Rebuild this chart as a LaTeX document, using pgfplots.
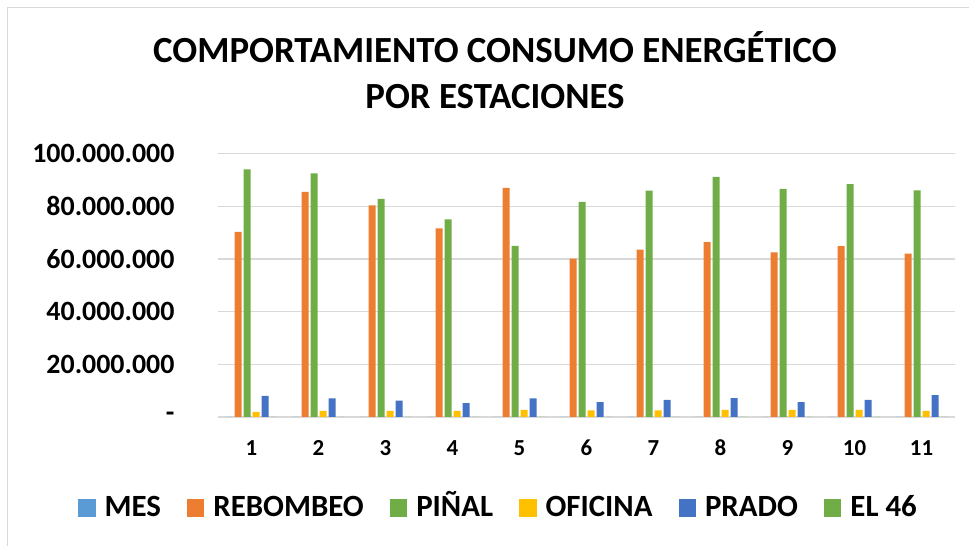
\documentclass[border=0pt]{standalone}
\usepackage{fontspec}
\setmainfont{Carlito}
\usepackage{pgfplots}
\pgfplotsset{compat=1.18}
\definecolor{cMES}{HTML}{5B9BD5}
\definecolor{cREB}{HTML}{ED7D31}
\definecolor{cPIN}{HTML}{70AD47}
\definecolor{cOFI}{HTML}{FFC000}
\definecolor{cPRA}{HTML}{4472C4}
\definecolor{cE46}{HTML}{70AD47}
\definecolor{gridc}{HTML}{D9D9D9}
\begin{document}
\begin{tikzpicture}
\path[use as bounding box] (0bp,0bp) rectangle (969bp,546bp);
\draw[gridc, line width=1bp] (7.5bp,0bp) -- (7.5bp,538bp) -- (969bp,538bp);
\node[anchor=base, font=\bfseries\fontsize{37}{44}\selectfont] at (495bp,483bp) {COMPORTAMIENTO CONSUMO ENERGÉTICO};
\node[anchor=base, font=\bfseries\fontsize{37}{44}\selectfont] at (495bp,437bp) {POR ESTACIONES};
\begin{axis}[
  at={(218bp,129bp)}, anchor=south west,
  scale only axis, width=737bp, height=263.5bp,
  ybar=2bp, bar width=7bp,
  xmin=0.5, xmax=11.5, ymin=0, ymax=100000000,
  xtick={1,2,...,11},
  ytick={0,20000000,40000000,60000000,80000000,100000000},
  yticklabels={{-\hspace{12bp}},20.000.000,40.000.000,60.000.000,80.000.000,100.000.000},
  scaled y ticks=false,
  /pgf/number format/assume math mode=true,
  axis line style={draw=none},
  major tick length=0pt,
  ymajorgrids, grid style={gridc, line width=1.3bp},
  yticklabel style={font=\bfseries\fontsize{28}{30}\selectfont, anchor=east, xshift=-40bp},
  xticklabel style={font=\bfseries\fontsize{23}{26}\selectfont, anchor=center, yshift=-31bp},
  legend columns=-1,
  legend style={at={(0.3853,-0.3378)}, anchor=center, draw=none, fill=none,
    font=\bfseries\fontsize{31}{34}\selectfont,
    /tikz/every even column/.append style={column sep=17bp},
    nodes={inner xsep=9bp, text height=20bp, text depth=0bp}},
]
\addplot[fill=cMES, draw=none, legend image code/.code={\fill[cMES] (0bp,-10.5bp) rectangle (17.5bp,7bp);}] coordinates {(1,1) (2,2) (3,3) (4,4) (5,5) (6,6) (7,7) (8,8) (9,9) (10,10) (11,11)};
\addplot[fill=cREB, draw=none, legend image code/.code={\fill[cREB] (0bp,-10.5bp) rectangle (17.5bp,7bp);}] coordinates {(1,70300000) (2,85400000) (3,80300000) (4,71600000) (5,87000000) (6,60100000) (7,63500000) (8,66400000) (9,62500000) (10,64800000) (11,62000000)};
\addplot[fill=cPIN, draw=none, legend image code/.code={\fill[cPIN] (0bp,-10.5bp) rectangle (17.5bp,7bp);}] coordinates {(1,94000000) (2,92500000) (3,82800000) (4,75000000) (5,64900000) (6,81600000) (7,85900000) (8,91100000) (9,86600000) (10,88400000) (11,86000000)};
\addplot[fill=cOFI, draw=none, legend image code/.code={\fill[cOFI] (0bp,-10.5bp) rectangle (17.5bp,7bp);}] coordinates {(1,1900000) (2,2300000) (3,2300000) (4,2300000) (5,2700000) (6,2500000) (7,2500000) (8,2700000) (9,2700000) (10,2700000) (11,2300000)};
\addplot[fill=cPRA, draw=none, legend image code/.code={\fill[cPRA] (0bp,-10.5bp) rectangle (17.5bp,7bp);}] coordinates {(1,8000000) (2,7100000) (3,6200000) (4,5300000) (5,7100000) (6,5600000) (7,6500000) (8,7200000) (9,5600000) (10,6500000) (11,8300000)};
\addplot[fill=cE46, draw=none, legend image code/.code={\fill[cE46] (0bp,-10.5bp) rectangle (17.5bp,7bp);}] coordinates {(1,0) (2,0) (3,0) (4,0) (5,0) (6,0) (7,0) (8,0) (9,0) (10,0) (11,0)};
\legend{MES,REBOMBEO,PIÑAL,OFICINA,PRADO,EL 46}
\end{axis}
\end{tikzpicture}
\end{document}
